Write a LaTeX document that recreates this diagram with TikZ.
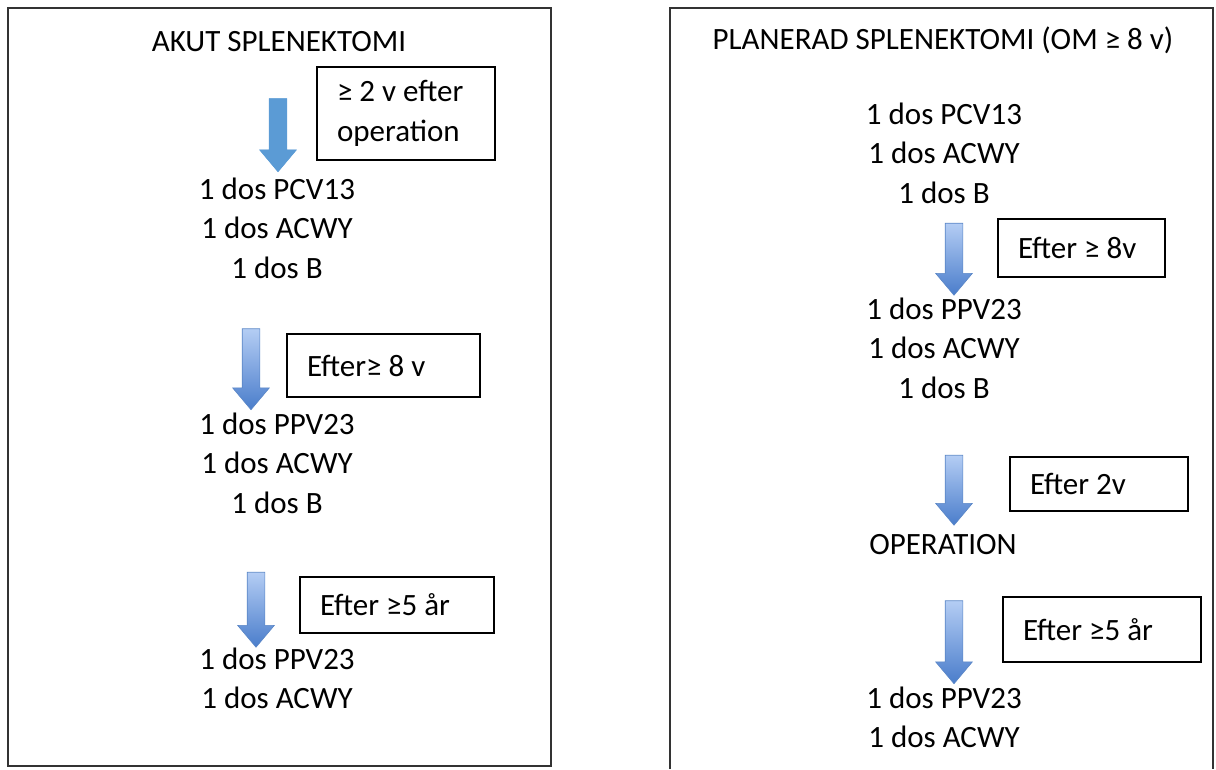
\documentclass[tikz,border=0pt]{standalone}
\usepackage{fontspec}
\setmainfont{Carlito}
\usetikzlibrary{shapes.arrows}

\definecolor{arrowtop}{HTML}{B4CDF4}
\definecolor{arrowbot}{HTML}{4A7DCB}
\definecolor{arrowrim}{HTML}{5A86C6}
\definecolor{arrowflat}{HTML}{5B9BD5}

\begin{document}
\begin{tikzpicture}[x=1pt, y=-1pt,
  every node/.style={font=\fontsize{31}{39.5}\selectfont},
  dose/.style={align=center, inner sep=0pt},
  note/.style={draw, line width=1.3pt, align=flush left, inner xsep=20pt, inner ysep=0pt},
  frame/.style={draw=black!80, line width=1.6pt},
  blockarrow/.style={single arrow, shape border rotate=270, inner sep=8.5pt,
    single arrow head extend=9.5pt, single arrow tip angle=80, minimum height=#1,
    draw=arrowrim, line width=0.6pt, top color=arrowtop, bottom color=arrowbot},
  flatarrow/.style={blockarrow=#1, draw=arrowflat, fill=arrowflat, top color=arrowflat, bottom color=arrowflat}
  ]
  \useasboundingbox (0,0) rectangle (1216,769);
  \draw[frame] (8,8) rectangle (551,766);
  \draw[frame] (670,769) |- (1213,8) -- (1213,769);

  % akut
  \node (akut) at (279,42) {AKUT SPLENEKTOMI};
  \node[flatarrow=73pt] (a1) at (278,130) {};
  \node[note, text width=138pt, minimum height=93pt] (b1) at (406,113.5) {≥ 2 v efter\\operation};
  \node[dose] (l1) at (277,228) {1 dos PCV13\\1 dos ACWY\\1 dos B};
  \node[blockarrow=81pt] (a2) at (251,364) {};
  \node[note, text width=153pt, minimum height=63pt] (b2) at (383.5,365.5) {Efter≥ 8 v};
  \node[dose] (l2) at (277,463) {1 dos PPV23\\1 dos ACWY\\1 dos B};
  \node[blockarrow=75pt] (a3) at (256,604.5) {};
  \node[note, text width=154pt, minimum height=56pt] (b3) at (397,605) {Efter ≥5 år};
  \node[dose] (l3) at (277,678.5) {1 dos PPV23\\1 dos ACWY};

  % planerad
  \node (plan) at (943,40) {PLANERAD SPLENEKTOMI (OM ≥ 8 v)};
  \node[dose] (r1) at (944,153) {1 dos PCV13\\1 dos ACWY\\1 dos B};
  \node[blockarrow=72pt] (ra1) at (954,254) {};
  \node[note, text width=127pt, minimum height=58pt] (rb1) at (1081.5,248) {Efter ≥ 8v};
  \node[dose] (r2) at (944,348) {1 dos PPV23\\1 dos ACWY\\1 dos B};
  \node[blockarrow=70pt] (ra2) at (954,485) {};
  \node[note, text width=138pt, minimum height=54pt] (rb2) at (1099,484) {Efter 2v};
  \node (op) at (943,545) {OPERATION};
  \node[blockarrow=83pt] (ra3) at (954,637) {};
  \node[note, text width=158pt, minimum height=65pt] (rb3) at (1102,629.5) {Efter ≥5 år};
  \node[dose] (r3) at (944,717.5) {1 dos PPV23\\1 dos ACWY};
\end{tikzpicture}
\end{document}
